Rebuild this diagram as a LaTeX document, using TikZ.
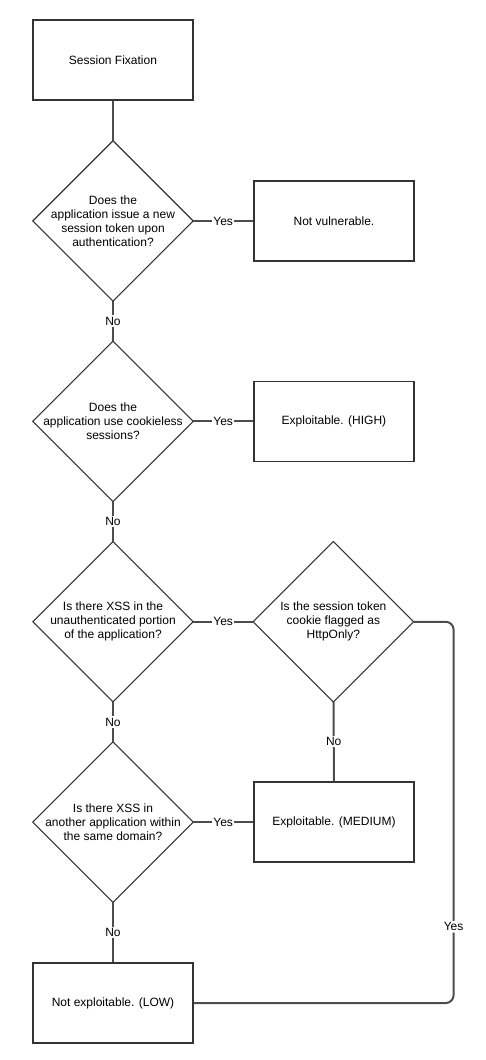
\documentclass[tikz,border=0pt]{standalone}
\usepackage{fontspec}
\setmainfont{Liberation Sans}
\usetikzlibrary{positioning}
\tikzset{
  endblock/.style={
    rectangle,
    draw=black!80, line width=1.5pt,
    minimum width=160pt,
    minimum height=80pt,
    text centered},
  question/.style={
    rectangle,
    minimum width=160pt,
    minimum height=160pt,
    inner sep=0pt,
    align=center,
    append after command={\pgfextra{\begin{pgfinterruptpath}
      \draw[black!80, line width=1.1pt] (\tikzlastnode.north) -- (\tikzlastnode.east)
        -- (\tikzlastnode.south) -- (\tikzlastnode.west) -- cycle;
      \end{pgfinterruptpath}}}},
  line/.style={draw=black!70, line width=2pt},
  answer/.style={fill=white, inner sep=1.5pt},
}

\begin{document}
\begin{tikzpicture}
  [node distance=40pt and 60pt,
  font=\fontsize{12pt}{14pt}\selectfont]
  \useasboundingbox (0,0) rectangle (486pt,-1060pt);
     \node[endblock] (fix) at (113pt,-60pt) {Session Fixation};
     \node[question, below=of fix] (newtok) {Does the\\application issue a new\\session token upon\\authentication?};
     \node[endblock, right=of newtok] (notvul) {Not vulnerable.};
     \node[question, below=of newtok] (cookieless) {Does the\\application use cookieless\\sessions?};
     \node[endblock, right=of cookieless] (high) {Exploitable. (HIGH)};
     \node[question, below=of cookieless] (xssunauth) {Is there XSS in the\\unauthenticated portion\\of the application?};
     \node[question, right=of xssunauth] (httponly) {Is the session token\\cookie flagged as\\HttpOnly?};
     \node[question, below=of xssunauth] (xssother) {Is there XSS in\\another application within\\the same domain?};
     \node[endblock, right=of xssother] (medium) {Exploitable. (MEDIUM)};
     \node[endblock, below=60pt of xssother] (low) {Not exploitable. (LOW)};
     \coordinate[right=40pt of httponly] (bend);

     \draw[line] (fix) -- (newtok);
     \draw[line] (newtok) -- node[answer] {Yes} (notvul);
     \draw[line] (newtok) -- node[answer] {No} (cookieless);
     \draw[line] (cookieless) -- node[answer] {Yes} (high);
     \draw[line] (cookieless) -- node[answer] {No} (xssunauth);
     \draw[line] (xssunauth) -- node[answer] {Yes} (httponly);
     \draw[line] (xssunauth) -- node[answer] {No} (xssother);
     \draw[line] (httponly) -- node[answer] {No} (medium);
     \draw[line] (xssother) -- node[answer] {Yes} (medium);
     \draw[line] (xssother) -- node[answer] {No} (low);
     \draw[line, rounded corners=8pt] (httponly.east) -- (bend) |- node[answer, pos=0.4] {Yes} (low.east);
\end{tikzpicture}
\end{document}
